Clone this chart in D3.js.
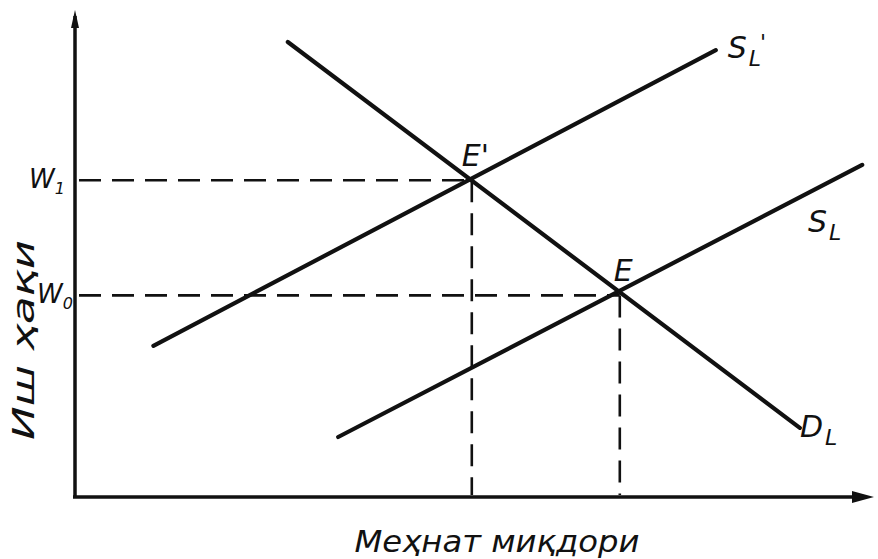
<!DOCTYPE html>
<html lang="uz">
<head>
<meta charset="UTF-8">
<title>Labour market</title>
<script src="https://cdn.jsdelivr.net/npm/d3@7/dist/d3.min.js"></script>
<style>
  body { margin: 0; background: #fff; }
  text { font-family: "DejaVu Sans", sans-serif; font-style: italic; fill: #111; }
</style>
</head>
<body>
<svg id="main" width="878" height="559"></svg>
<script>
// values, in 0..100 units on both axes
const curveNames = ["S'L", "SL", "DL"];
const supplyNew = [[9.8, 31.5], [80.1, 93.1]];   // S'L
const supplyOld = [[32.9, 12.5], [98.4, 69.2]];  // SL
const demand    = [[26.6, 94.8], [90.6, 14.4]];  // DL
const equilibria = [
  { name: "E'", q: 49.6, w: 66.0, wage: "W1" },
  { name: "E",  q: 68.1, w: 42.0, wage: "W0" }
];
const xTitle = "Меҳнат миқдори";
const yTitle = "Иш ҳақи";

const svg = d3.select('svg#main');
const ink = "#111";

const x = d3.scaleLinear().domain([0, 100]).range([75, 875]);
const y = d3.scaleLinear().domain([0, 100]).range([497, 17]);

// axes: plain lines with arrow heads
svg.append("line")
    .attr("x1", x(0)).attr("y1", y(0))
    .attr("x2", x(0)).attr("y2", 16)
    .attr("stroke", ink).attr("stroke-width", 3.5);
svg.append("path")
    .attr("d", `M${x(0)},10 L${x(0) - 4},28 L${x(0) + 4},28 Z`)
    .attr("fill", ink);
svg.append("line")
    .attr("x1", x(0) - 2).attr("y1", y(0))
    .attr("x2", 862).attr("y2", y(0))
    .attr("stroke", ink).attr("stroke-width", 3.5);
svg.append("path")
    .attr("d", `M874,${y(0)} L852,${y(0) - 6} L852,${y(0) + 6} Z`)
    .attr("fill", ink);

// dashed guides
const dash = svg.append("g")
    .attr("stroke", ink).attr("stroke-width", 2.6)
    .attr("stroke-dasharray", "22,11").attr("fill", "none");
equilibria.forEach(function(e) {
  dash.append("line")
      .attr("x1", x(0) + 4).attr("y1", y(e.w))
      .attr("x2", x(e.q)).attr("y2", y(e.w));
  dash.append("line")
      .attr("x1", x(e.q)).attr("y1", y(e.w))
      .attr("x2", x(e.q)).attr("y2", y(0) - 2);
});

// curves
const line = d3.line().x(d => x(d[0])).y(d => y(d[1]));
svg.selectAll("path.curve")
    .data([supplyNew, supplyOld, demand])
    .enter().append("path")
    .attr("class", "curve")
    .attr("d", line)
    .attr("fill", "none")
    .attr("stroke", ink)
    .attr("stroke-width", 4.2)
    .attr("stroke-linecap", "round");

// curve labels: S / D with subscript L (prime raised after the L)
function subLabel(px, py, main, prime) {
  const t = svg.append("text").attr("x", px).attr("y", py)
      .attr("font-size", 30);
  t.append("tspan").text(main);
  t.append("tspan").text("L").attr("font-size", 22).attr("dy", 8).attr("dx", 2);
  if (prime) {
    t.append("tspan").text("'").attr("font-size", 22).attr("dy", -16).attr("dx", -1);
  }
}
subLabel(x(supplyNew[1][0]) + 12, y(supplyNew[1][1]) + 8, "S", true);
subLabel(808, 232, "S", false);
subLabel(800, 437, "D", false);

// equilibrium labels and wage ticks
equilibria.forEach(function(e, i) {
  svg.append("text")
      .attr("x", x(e.q) + (i === 0 ? -10 : -6))
      .attr("y", y(e.w) - 14)
      .attr("font-size", 30)
      .text(e.name);
  const wl = svg.append("text")
      .attr("x", i === 0 ? 29 : 37)
      .attr("y", y(e.w) + 8)
      .attr("font-size", 26);
  wl.append("tspan").text(e.wage[0]);
  wl.append("tspan").text(e.wage[1]).attr("font-size", 16).attr("dy", 6);
});

// axis titles
svg.append("text")
    .attr("x", 497).attr("y", 552)
    .attr("text-anchor", "middle")
    .attr("font-size", 31)
    .attr("textLength", 285)
    .attr("lengthAdjust", "spacingAndGlyphs")
    .text(xTitle);
svg.append("text")
    .attr("transform", "translate(34,340) rotate(-90)")
    .attr("text-anchor", "middle")
    .attr("font-size", 31)
    .attr("textLength", 200)
    .attr("lengthAdjust", "spacingAndGlyphs")
    .text(yTitle);
</script>
</body>
</html>
